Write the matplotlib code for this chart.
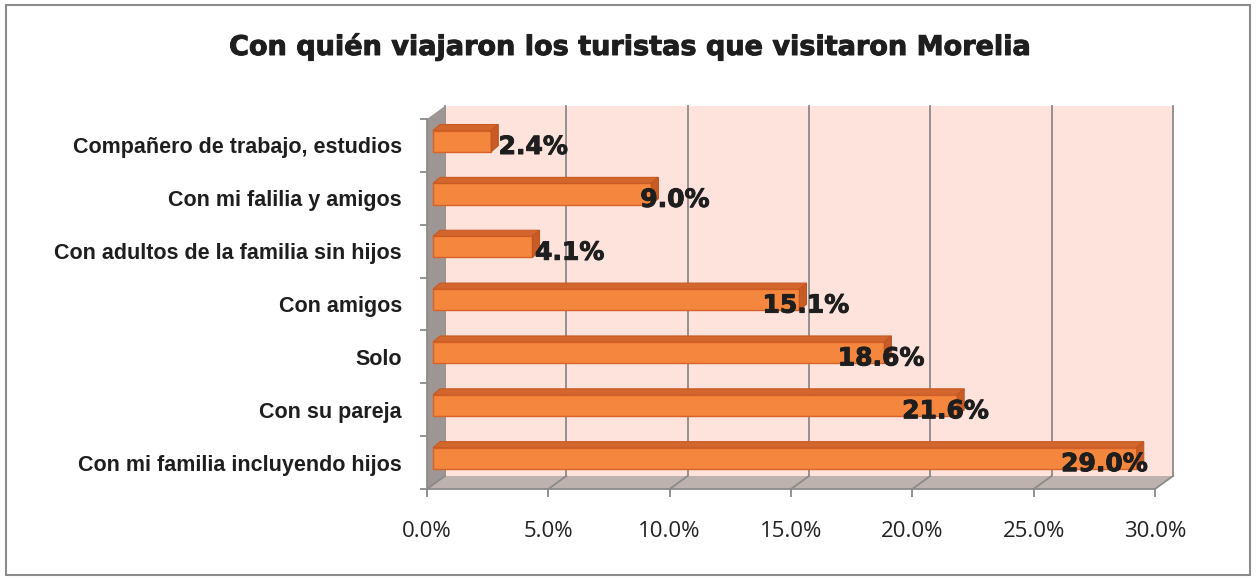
import matplotlib.pyplot as plt
from matplotlib.patches import Polygon, Rectangle
import matplotlib.patheffects as pe
import numpy as np

categorias = ['Con mi familia incluyendo hijos', 'Con su pareja', 'Solo', 'Con amigos',
              'Con adultos de la familia sin hijos', 'Con mi falilia y amigos',
              'Compañero de trabajo, estudios']
valores = [29.0, 21.6, 18.6, 15.1, 4.1, 9.0, 2.4]
xticks = [0, 5, 10, 15, 20, 25, 30]
titulo = 'Con quién viajaron los turistas que visitaron Morelia'

W, H = 1257, 579
fig = plt.figure(figsize=(W/100, H/100), dpi=100)
fig.patch.set_facecolor('white')
fig.add_artist(Rectangle((6/W, 4/H), 1244/W, 570/H, transform=fig.transFigure,
                         fill=False, ec='#8c8c8c', lw=1.5))

ax = fig.add_axes([427/W, 90/H, 728/W, 370/H])
ax.set_xlim(0, 30)
ax.set_ylim(-0.5, 6.5)
for s in ax.spines.values():
    s.set_visible(False)
ax.patch.set_visible(False)

# 3d offsets (data units)
px_x = 30/728
px_y = 7/370
dx, dy = 18*px_x, 13*px_y
n = len(categorias)
y0, y1 = -0.5, n - 0.5
grid = '#8a8a8a'
heavy = [pe.withStroke(linewidth=0.7, foreground='#1e1e1e')]

# back wall
ax.add_patch(Polygon([(dx, y0+dy), (30+dx, y0+dy), (30+dx, y1+dy), (dx, y1+dy)],
                     fc='#fde3db', ec='none', clip_on=False, zorder=1))
for t in xticks:
    ax.plot([t+dx, t+dx], [y0+dy, y1+dy], color=grid, lw=1.3, clip_on=False, zorder=2)
# floor
ax.add_patch(Polygon([(0, y0), (30, y0), (30+dx, y0+dy), (dx, y0+dy)],
                     fc='#beb2ae', ec='none', clip_on=False, zorder=2))
for t in xticks:
    ax.plot([t, t+dx], [y0, y0+dy], color=grid, lw=1.3, clip_on=False, zorder=3)
# left wall
ax.add_patch(Polygon([(0, y0), (0, y1), (dx, y1+dy), (dx, y0+dy)],
                     fc='#9e9694', ec='none', clip_on=False, zorder=2))
ax.plot([0, 0], [y0, y1], color=grid, lw=1.3, clip_on=False, zorder=3)
ax.plot([0, 30], [y0, y0], color=grid, lw=1.3, clip_on=False, zorder=3)

# bars
bx0 = dx/3
bdx, bdy = 7*px_x, 6*px_y
hh = 0.20
for i, v in enumerate(valores):
    yc = i + dy/3
    b, t = yc - hh, yc + hh
    ax.add_patch(Polygon([(bx0, b), (v+bx0, b), (v+bx0, t), (bx0, t)],
                         fc='#f4873d', ec='#d8632a', lw=1, clip_on=False, zorder=5))
    ax.add_patch(Polygon([(bx0, t), (v+bx0, t), (v+bx0+bdx, t+bdy), (bx0+bdx, t+bdy)],
                         fc='#d2662c', ec='#c95a22', lw=0.8, clip_on=False, zorder=5))
    ax.add_patch(Polygon([(v+bx0, b), (v+bx0+bdx, b+bdy), (v+bx0+bdx, t+bdy), (v+bx0, t)],
                         fc='#c85c26', ec='#c05520', lw=0.8, clip_on=False, zorder=5))
    ax.text(2.25 + 0.885*v, i - 0.03, '%.1f%%' % v, ha='center', va='center',
            fontsize=18, fontweight='bold', family='DejaVu Sans',
            color='#1e1e1e', zorder=6, clip_on=False, path_effects=heavy)

# ticks
ax.set_xticks(xticks)
ax.set_xticklabels(['%.1f%%' % t for t in xticks], family=['Open Sans', 'DejaVu Sans'],
                   fontsize=16, color='#222222')
ax.tick_params(axis='x', length=6, width=1.3, color=grid, pad=17)
ax.set_yticks(np.arange(-0.5, n, 1.0))
ax.set_yticklabels([])
ax.tick_params(axis='y', which='major', length=5, width=1.3, color=grid)
ax.set_yticks(np.arange(n), minor=True)
ax.set_yticklabels(categorias, minor=True, fontsize=15.5, fontweight='bold',
                   family='Liberation Sans', color='#1e1e1e')
ax.tick_params(axis='y', which='minor', length=0, pad=18)

fig.text(630/W, 1 - 47/H, titulo, ha='center', va='center', fontsize=19.5,
         fontweight='bold', family='DejaVu Sans', color='#1e1e1e', path_effects=heavy)

fig.savefig('out.png', dpi=100)
